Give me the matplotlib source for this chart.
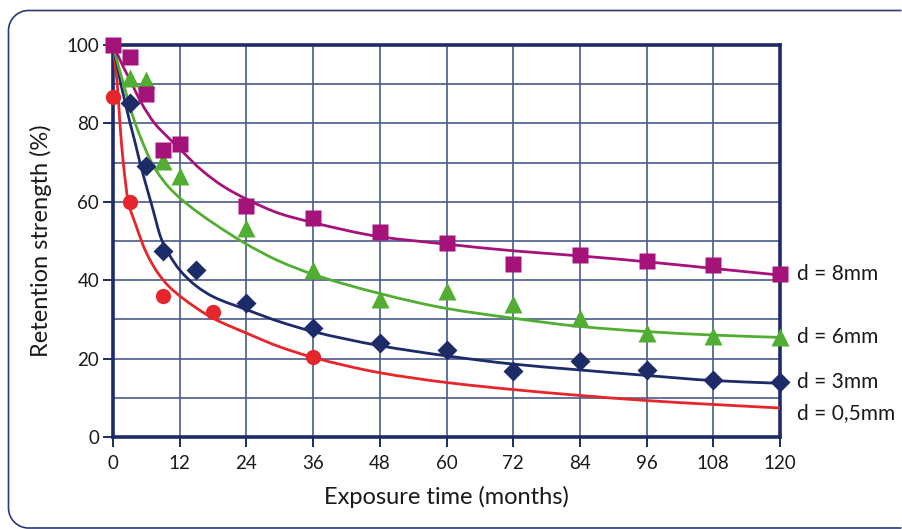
import matplotlib
matplotlib.use("Agg")
import matplotlib.pyplot as plt
from matplotlib.patches import PathPatch
from matplotlib.path import Path
from matplotlib.transforms import IdentityTransform

plt.rcParams['font.family'] = ['Lato', 'DejaVu Sans']

# ---- data ----
# measured points
t_8mm = [0, 3, 6, 9, 12, 24, 36, 48, 60, 72, 84, 96, 108, 120]
r_8mm = [100, 97, 87.5, 73.2, 74.7, 58.9, 55.9, 52.3, 49.6, 44.1, 46.4, 44.8, 43.9, 41.6]

t_6mm = [3, 6, 9, 12, 24, 36, 48, 60, 72, 84, 96, 108, 120]
r_6mm = [91.6, 91.0, 70.5, 66.6, 53.3, 42.6, 35.2, 37.2, 34.0, 30.4, 26.5, 25.7, 25.5]

t_3mm = [3, 6, 9, 15, 24, 36, 48, 60, 72, 84, 96, 108, 120]
r_3mm = [85.2, 69.1, 47.4, 42.6, 34.2, 27.8, 24.0, 22.2, 16.9, 19.4, 17.2, 14.5, 14.0]

t_05mm = [0, 3, 9, 18, 36]
r_05mm = [86.8, 60.0, 36.0, 31.9, 20.4]

# fitted trend curves
ct_8mm = [0, 1, 2, 3.6, 5, 7.5, 10, 12, 16, 20, 24, 30, 36, 48, 60, 72, 84, 96, 108, 120]
cr_8mm = [100, 97, 94, 89.5, 85.5, 80, 76.3, 73.5, 68, 63.8, 60.7, 57, 54.7, 51.1, 49.2, 47.5, 46.2, 44.7, 43.0, 41.3]

ct_6mm = [0, 1, 2, 3, 4, 5, 6.6, 8, 10, 12, 15, 18, 24, 30, 36, 48, 60, 72, 84, 96, 108, 120]
cr_6mm = [100, 94.5, 89.5, 84.5, 80, 76.3, 71, 67.5, 63.8, 61, 57.6, 54.6, 49.2, 44.8, 41.5, 36.6, 32.8, 30.3, 28.2, 26.9, 26.0, 25.4]

ct_3mm = [0, 0.5, 1, 1.5, 2, 3, 4, 4.85, 6, 7, 8.7, 10, 12, 15, 18, 24, 30, 36, 48, 60, 72, 84, 96, 108, 120]
cr_3mm = [100, 96.5, 93, 89.5, 86.5, 80.5, 75, 70, 64, 59, 50.5, 46.8, 42.6, 38.5, 35.8, 32.5, 29.4, 26.9, 23.3, 20.7, 18.6, 17.1, 15.7, 14.4, 13.7]

ct_05mm = [0, 0.4, 0.77, 1.25, 1.85, 2.75, 4, 6, 8, 10, 12, 18, 24, 30, 36, 48, 60, 72, 84, 96, 108, 120]
cr_05mm = [100, 95, 90, 80, 70, 60, 54.5, 47, 42, 38.5, 36, 30.3, 26.5, 23, 20.3, 16.4, 13.9, 12.1, 10.6, 9.3, 8.3, 7.4]

series_labels = ["d = 8mm", "d = 6mm", "d = 3mm", "d = 0,5mm"]
label_y = [41.5, 25.5, 14.0, 6.0]

x_ticks = [0, 12, 24, 36, 48, 60, 72, 84, 96, 108, 120]
y_ticks = [0, 20, 40, 60, 80, 100]

# ---- style ----
c_purple = '#a5127a'
c_green = '#52ae32'
c_navy = '#1d2b68'
c_red = '#e6262b'
c_grid = '#4a5a8c'
c_axis = '#1d2b68'
c_text = '#1a1a1a'


def smooth_path(xs, ys):
    """Smooth Bezier path through the read curve values (monotone Hermite tangents)."""
    n = len(xs)
    h = [xs[i + 1] - xs[i] for i in range(n - 1)]
    d = [(ys[i + 1] - ys[i]) / h[i] for i in range(n - 1)]
    m = [0.0] * n
    m[0] = d[0]
    m[-1] = d[-1]
    for i in range(1, n - 1):
        if d[i - 1] * d[i] <= 0:
            m[i] = 0.0
        else:
            w1 = 2 * h[i] + h[i - 1]
            w2 = h[i] + 2 * h[i - 1]
            m[i] = (w1 + w2) / (w1 / d[i - 1] + w2 / d[i])
    verts = [(xs[0], ys[0])]
    codes = [Path.MOVETO]
    for i in range(n - 1):
        verts += [(xs[i] + h[i] / 3, ys[i] + m[i] * h[i] / 3),
                  (xs[i + 1] - h[i] / 3, ys[i + 1] - m[i + 1] * h[i] / 3),
                  (xs[i + 1], ys[i + 1])]
        codes += [Path.CURVE4] * 3
    return Path(verts, codes)


W, H = 902, 529
fig = plt.figure(figsize=(W / 100, H / 100), dpi=100)

# outer frame: rounded left corners, open to the right (pixel coords, origin bottom-left)
L, T, B, R, rad = 8.5, H - 10.5, 1.0, W - 0.5, 20
k = 0.5523 * rad
frame_path = Path(
    [(R, T), (L + rad, T),
     (L + rad - k, T), (L, T - rad + k), (L, T - rad),
     (L, B + rad),
     (L, B + rad - k), (L + rad - k, B), (L + rad, B),
     (R, B)],
    [Path.MOVETO, Path.LINETO,
     Path.CURVE4, Path.CURVE4, Path.CURVE4,
     Path.LINETO,
     Path.CURVE4, Path.CURVE4, Path.CURVE4,
     Path.LINETO])
fig.patches.append(PathPatch(frame_path, transform=IdentityTransform(),
                             facecolor='none', edgecolor='#2c3a72', lw=1.2))

ax = fig.add_axes([113 / W, 1 - 437 / H, (780 - 113) / W, (437 - 45) / H])
ax.set_xlim(0, 120)
ax.set_ylim(0, 100)

ax.set_xticks(x_ticks)
ax.set_yticks(y_ticks)
ax.set_yticks(list(range(10, 100, 20)), minor=True)
ax.grid(True, which='both', color=c_grid, linewidth=1.2, zorder=1)
ax.tick_params(axis='both', which='major', length=7, width=1.4, color=c_axis,
               labelsize=13.5, labelcolor=c_text, direction='out')
ax.tick_params(axis='x', pad=6)
ax.tick_params(axis='y', pad=3)
ax.tick_params(axis='y', which='minor', length=0)
for s in ax.spines.values():
    s.set_color(c_axis)
    s.set_linewidth(2.6)
    s.set_zorder(2)
ax.set_axisbelow(True)

lw = 2.0
for xs, ys, col in [(ct_05mm, cr_05mm, c_red), (ct_3mm, cr_3mm, c_navy),
                    (ct_6mm, cr_6mm, c_green), (ct_8mm, cr_8mm, c_purple)]:
    ax.add_patch(PathPatch(smooth_path(xs, ys), facecolor='none', edgecolor=col,
                           lw=lw, zorder=3, capstyle='round'))

ax.plot(t_05mm, r_05mm, 'o', color=c_red, ms=11, mec='none', zorder=4, clip_on=False)
ax.plot(t_3mm, r_3mm, 'D', color=c_navy, ms=10.5, mec='none', zorder=4, clip_on=False)
ax.plot(t_6mm, r_6mm, '^', color=c_green, ms=12.5, mec='none', zorder=4, clip_on=False)
ax.plot(t_8mm, r_8mm, 's', color=c_purple, ms=11, mec='none', zorder=5, clip_on=False)

for lab, yv in zip(series_labels, label_y):
    ax.annotate(lab, xy=(120, yv), xytext=(12, 0), textcoords='offset points',
                ha='left', va='center', fontsize=15, color=c_text,
                annotation_clip=False)

ax.set_xlabel("Exposure time (months)", fontsize=17, color=c_text, labelpad=10)
ax.set_ylabel("Retention strength (%)", fontsize=17, color=c_text, labelpad=10)

fig.savefig("out.png", dpi=100)
